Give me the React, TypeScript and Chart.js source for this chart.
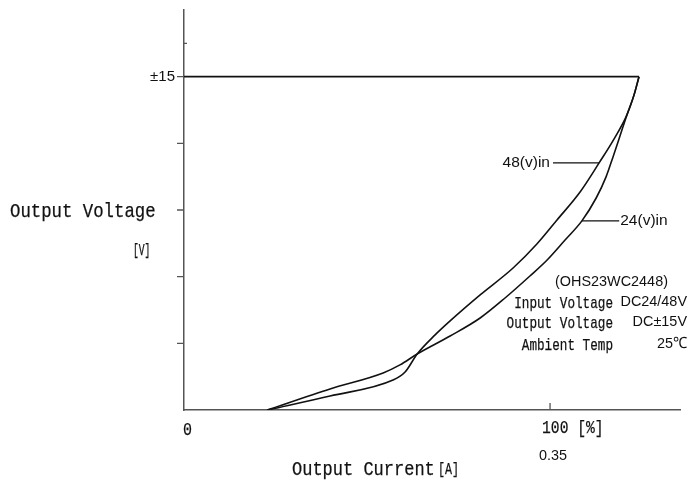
import React, { useEffect, useRef } from "react";
import { Chart, registerables } from "chart.js";

Chart.register(...registerables);

// load curve, 48V input (x = output current %, y = output voltage V)
const load48X = [22.7, 39.9, 57.1, 60.4, 63.7, 68.6, 72.7, 80.9, 89.9, 96.4, 101.9, 108.2, 113.4, 117.5, 121.0, 122.95, 124.3];
const load48Y = [0, 0.63, 1.35, 1.71, 2.52, 3.38, 4.01, 5.18, 6.39, 7.47, 8.55, 9.81, 11.12, 12.2, 13.28, 14.18, 15];
// load curve, 24V input
const load24X = [22.7, 39.9, 54.4, 59.0, 63.7, 72.7, 80.9, 87.7, 94.5, 99.2, 104.1, 108.7, 112.6, 115.3, 117.2, 119.1, 121.0, 122.95, 124.3];
const load24Y = [0, 0.95, 1.67, 2.03, 2.52, 3.33, 4.14, 5.04, 6.03, 6.75, 7.65, 8.51, 9.54, 10.49, 11.39, 12.33, 13.28, 14.18, 15];
// rated voltage line
const ratedX = [0, 124.3];
const ratedY = [15, 15];

const yTicks = [3, 6, 9, 12, 15];
const yTickLabels = ["", "", "", "", "±15"];
const yMinorTicks = [16.5];
const xTicks = [0, 100];
const xTickLabels = ["0", "100 [%]"];
const xSubLabels = ["", "0.35"];

// leader labels: curve point (x, y) and the far end of the leader (end)
const label48 = { text: "48(v)in", x: 113.4, y: 11.12, end: 100.8 };
const label24 = { text: "24(v)in", x: 108.7, y: 8.51, end: 118.9 };

const specTitle = "(OHS23WC2448)";
const specNames = ["Input Voltage", "Output Voltage", "Ambient Temp"];
const specValues = ["DC24/48V", "DC±15V", "25℃"];

const INK = "#111";
const AXIS = "#555";
const SANS = '"Liberation Sans", Arial, sans-serif';
const MONO = '"Liberation Mono", "DejaVu Sans Mono", monospace';

const toPoints = (xs: number[], ys: number[]) => xs.map((x, i) => ({ x, y: ys[i] }));

// narrow monospace text, like the Japanese gothic font in the original sheet
function mono(ctx: CanvasRenderingContext2D, text: string, px: number, py: number, size: number, charW: number, align: CanvasTextAlign = "left") {
  ctx.save();
  ctx.font = `${size}px ${MONO}`;
  ctx.textBaseline = "middle";
  ctx.textAlign = align;
  ctx.translate(px, py);
  ctx.scale(charW / (size * 0.6), 1);
  ctx.fillText(text, 0, 0);
  ctx.strokeStyle = INK;
  ctx.lineWidth = 0.25;
  ctx.strokeText(text, 0, 0);
  ctx.restore();
}

function sans(ctx: CanvasRenderingContext2D, text: string, px: number, py: number, size: number, align: CanvasTextAlign = "left", sx = 0.93) {
  ctx.save();
  ctx.font = `${size}px ${SANS}`;
  ctx.textBaseline = "middle";
  ctx.textAlign = align;
  ctx.translate(px, py);
  ctx.scale(sx, 1);
  ctx.fillText(text, 0, 0);
  ctx.restore();
}

const overlay = {
  id: "overlay",
  afterDraw(chart: any) {
    const { ctx } = chart;
    const xs = chart.scales.x;
    const ys = chart.scales.y;
    const left = xs.left;
    const bottom = ys.bottom;

    ctx.save();
    ctx.strokeStyle = AXIS;
    ctx.lineWidth = 1.3;
    ctx.beginPath();
    yTicks.forEach((v) => {
      const py = ys.getPixelForValue(v);
      ctx.moveTo(left - 7, py);
      ctx.lineTo(left, py);
    });
    yMinorTicks.forEach((v) => {
      const py = ys.getPixelForValue(v);
      ctx.moveTo(left, py);
      ctx.lineTo(left + 3, py);
    });
    xTicks.forEach((v) => {
      if (v === 0) return;
      const px = xs.getPixelForValue(v);
      ctx.moveTo(px, bottom);
      ctx.lineTo(px, bottom - 7);
    });
    ctx.stroke();

    ctx.fillStyle = INK;
    yTicks.forEach((v, i) => {
      if (yTickLabels[i]) sans(ctx, yTickLabels[i], left - 9, ys.getPixelForValue(v), 15.5, "right", 0.97);
    });
    xTicks.forEach((v, i) => {
      const px = xs.getPixelForValue(v);
      if (v === 0) mono(ctx, xTickLabels[i], px - 1, bottom + 20, 19, 9);
      else mono(ctx, xTickLabels[i], px - 8, bottom + 18, 19, 8.8);
      if (xSubLabels[i]) sans(ctx, xSubLabels[i], px - 11, bottom + 46, 15.5);
    });

    // series leaders
    ctx.strokeStyle = INK;
    ctx.lineWidth = 1.2;
    const p48 = { x: xs.getPixelForValue(label48.x), y: ys.getPixelForValue(label48.y) };
    const e48 = xs.getPixelForValue(label48.end);
    const p24 = { x: xs.getPixelForValue(label24.x), y: ys.getPixelForValue(label24.y) };
    const e24 = xs.getPixelForValue(label24.end);
    ctx.beginPath();
    ctx.moveTo(e48, p48.y);
    ctx.lineTo(p48.x, p48.y);
    ctx.moveTo(p24.x, p24.y);
    ctx.lineTo(e24, p24.y);
    ctx.stroke();
    sans(ctx, label48.text, e48 - 3, p48.y, 15.5, "right", 1);
    sans(ctx, label24.text, e24 + 1, p24.y, 15.5, "left", 1);

    // spec block
    sans(ctx, specTitle, 555, 282, 15.5);
    const rows = [303, 323, 345];
    specNames.forEach((n, i) => mono(ctx, n, 613, rows[i], 17, 7.6, "right"));
    specValues.forEach((v, i) => sans(ctx, v, 687, rows[i] - 1, 15.5, "right"));

    // axis titles
    mono(ctx, "Output Voltage", 10, 211, 21, 10.4);
    mono(ctx, "[V]", 133, 251, 16, 5.8);
    mono(ctx, "Output Current", 292, 469, 21, 10.2);
    mono(ctx, "[A]", 438, 469, 17, 7);
    ctx.restore();
  },
};

export default function App() {
  const canvasRef = useRef<HTMLCanvasElement | null>(null);

  useEffect(() => {
    document.body.style.margin = "0";
    if (!canvasRef.current) return;
    const line = (pts: { x: number; y: number }[]) => ({
      data: pts,
      showLine: true,
      borderColor: INK,
      borderWidth: 1.6,
      pointRadius: 0,
      cubicInterpolationMode: "monotone" as const,
    });
    const chart = new Chart(canvasRef.current, {
      type: "scatter",
      data: {
        datasets: [
          line(toPoints(ratedX, ratedY)),
          line(toPoints(load48X, load48Y)),
          line(toPoints(load24X, load24Y)),
        ],
      },
      options: {
        responsive: false,
        animation: false,
        layout: { padding: { left: 184, right: 9, top: 10, bottom: 73 } },
        plugins: { legend: { display: false }, tooltip: { enabled: false } },
        scales: {
          x: {
            type: "linear",
            min: 0,
            max: 135.5,
            grid: { display: false, drawTicks: false },
            ticks: { display: false },
            border: { display: true, color: AXIS, width: 1.5 },
            afterFit: (s: any) => { s.height = 0; },
          },
          y: {
            type: "linear",
            min: 0,
            max: 18,
            grid: { display: false, drawTicks: false },
            ticks: { display: false },
            border: { display: true, color: AXIS, width: 1.5 },
            afterFit: (s: any) => { s.width = 0; },
          },
        },
      },
      plugins: [overlay],
    });
    return () => chart.destroy();
  }, []);

  return (
    <div style={{ position: "absolute", left: 0, top: 0, background: "#fff" }}>
      <canvas ref={canvasRef} width={689} height={483} style={{ width: 689, height: 483 }} />
    </div>
  );
}
